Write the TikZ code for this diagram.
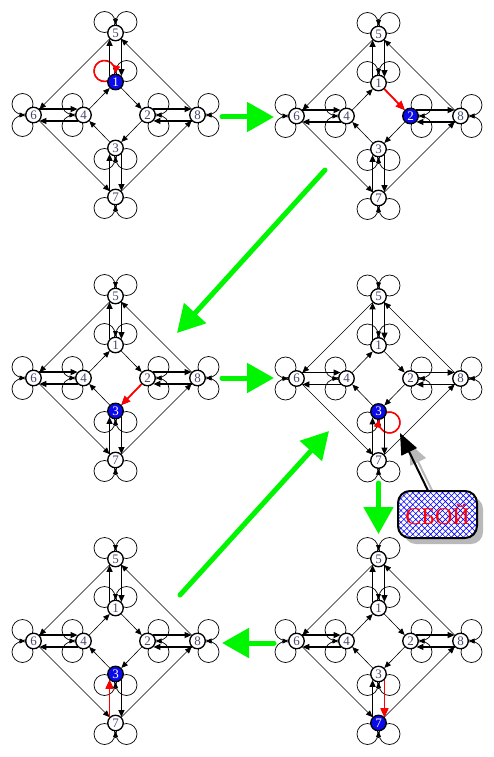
\documentclass[tikz,border=0pt]{standalone}
\usepackage{fontspec}
\setmainfont{Liberation Serif}
\usetikzlibrary{arrows.meta,patterns.meta,backgrounds,shadows}
\definecolor{labelc}{RGB}{70,75,110}
\definecolor{nodeblue}{RGB}{10,10,235}
\definecolor{lime}{RGB}{0,245,0}
\definecolor{shadowgray}{RGB}{185,185,185}
\tikzset{
  vtx/.style={circle, draw=black, line width=1.3pt, fill=white, minimum size=15.5pt,
    inner sep=0pt, font=\fontsize{13}{13}\selectfont, text=labelc},
  vact/.style={vtx, fill=nodeblue, text=white},
  lp/.style={line width=0.7pt},
  lpar/.style={line width=0.7pt, -{Triangle[length=5.5pt,width=5pt]}},
  de/.style={line width=0.6pt, -{Triangle[length=6.5pt,width=5.5pt]}},
  dd/.style={line width=1.3pt, -{Triangle[length=7pt,width=6pt]}},
  rd/.style={draw=red, line width=1.8pt, -{Triangle[length=9pt,width=8pt]}},
  rlp/.style={draw=red, line width=1.6pt, -{Triangle[length=8pt,width=7pt]}},
  garrow/.style={draw=lime, fill=lime, line width=5pt, line cap=round, -{Triangle[length=27pt,width=29pt]}},
  callout/.style={draw=black, line width=2pt, rounded corners=12pt, minimum width=79pt,
    minimum height=47pt, inner sep=0pt, text=red, font=\fontsize{24}{24}\selectfont,
    drop shadow={shadow xshift=6pt, shadow yshift=-6pt, fill=shadowgray, opacity=1},
    preaction={fill=white},
    pattern={Hatch[angle=45,distance=4.2pt,line width=0.6pt]}, pattern color=blue},
  ptr/.style={draw=black, line width=2pt, -{Triangle[length=21pt,width=17pt]}},
  ptrsh/.style={draw=shadowgray, line width=2pt, -{Triangle[length=21pt,width=17pt]}}
}
\newcommand\dgact{0}
\newcommand\dgnode[4]{\ifnum#2=\dgact\relax\node[vact] (#1#2) at (#3,#4) {#2};\else\node[vtx] (#1#2) at (#3,#4) {#2};\fi}
\newcommand\lpup[1]{\draw[lp] (#1) ++(-11,-11) circle[radius=10.5];\draw[lp] (#1) ++(11,-11) circle[radius=10.5];\draw[lpar] (#1) ++(0,-14.5) -- ++(0,6);}
\newcommand\lpdown[1]{\draw[lp] (#1) ++(-11,11) circle[radius=10.5];\draw[lp] (#1) ++(11,11) circle[radius=10.5];\draw[lpar] (#1) ++(0,14.5) -- ++(0,-6);}
\newcommand\lpleft[1]{\draw[lp] (#1) ++(-11,-11) circle[radius=10.5];\draw[lp] (#1) ++(-11,11) circle[radius=10.5];\draw[lpar] (#1) ++(-14.5,0) -- ++(6,0);}
\newcommand\lpright[1]{\draw[lp] (#1) ++(11,-11) circle[radius=10.5];\draw[lp] (#1) ++(11,11) circle[radius=10.5];\draw[lpar] (#1) ++(14.5,0) -- ++(-6,0);}
\newcommand\dgdraw[4]{%
  \def\dgact{#4}%
  \begin{scope}[shift={(#2,#3)}]
    \dgnode{#1}{5}{0}{-82}
    \dgnode{#1}{1}{0}{-33}
    \dgnode{#1}{6}{-82}{0}
    \dgnode{#1}{4}{-32}{0}
    \dgnode{#1}{2}{32}{0}
    \dgnode{#1}{8}{82}{0}
    \dgnode{#1}{3}{0}{33}
    \dgnode{#1}{7}{0}{82}
  \end{scope}
  \begin{pgfonlayer}{background}
    \lpup{#15}\lpup{#11}\lpleft{#16}\lpleft{#14}\lpright{#12}\lpright{#18}\lpdown{#13}\lpdown{#17}
  \end{pgfonlayer}
  \draw[de] (#15) -- (#16);
  \draw[de] (#18) -- (#15);
  \draw[de] (#14) -- (#11);
  \draw[de] (#11) -- (#12);
  \draw[de] (#12) -- (#13);
  \draw[de] (#13) -- (#14);
  \draw[de] (#16) -- (#17);
  \draw[de] (#17) -- (#18);
  \draw[dd] (#11.135) -- (#15.225);
  \draw[dd] (#15.315) -- (#11.45);
  \draw[dd] (#16.45) -- (#14.135);
  \draw[dd] (#14.225) -- (#16.315);
  \draw[dd] (#12.45) -- (#18.135);
  \draw[dd] (#18.225) -- (#12.315);
  \draw[dd] (#17.135) -- (#13.225);
  \draw[dd] (#13.315) -- (#17.45);
}
\begin{document}
\begin{tikzpicture}[x=1pt,y=-1pt]
  \useasboundingbox (0,0) rectangle (494,757);
  \begin{pgfonlayer}{background}
    \fill[white] (0,0) rectangle (494,757);
  \end{pgfonlayer}
  \dgdraw{a}{115.5}{115}{1}
  \dgdraw{b}{378.5}{116}{2}
  \dgdraw{c}{115.5}{378}{3}
  \dgdraw{d}{378.5}{378.5}{3}
  \dgdraw{e}{115.5}{641}{3}
  \dgdraw{f}{378.5}{641}{7}
  % red transitions
  \begin{pgfonlayer}{background}
    \draw[rlp] (a1) ++(-5.75,-1.91) arc[start angle=60, end angle=374, radius=10.5];
    \draw[rlp] (d3) ++(4.98,2.40) arc[start angle=-125, end angle=196, radius=10.5];
  \end{pgfonlayer}
  \draw[rd] (b1) -- (b2);
  \draw[rd] (c2) -- (c3);
  \draw[rd] (e7.135) -- (e3.225);
  \draw[rd] (f3.315) -- (f7.45);
  % green arrows
  \coordinate (g1s) at (222,117); \coordinate (g1e) at (274,117);
  \coordinate (g2s) at (325,170); \coordinate (g2e) at (177,333);
  \coordinate (g3s) at (222,378); \coordinate (g3e) at (274,378);
  \coordinate (g4s) at (378.5,483); \coordinate (g4e) at (378.5,534);
  \coordinate (g5s) at (274,643); \coordinate (g5e) at (222,643);
  \coordinate (g6s) at (180,595); \coordinate (g6e) at (329,431);
  \draw[garrow] (g1s) -- (g1e);
  \draw[garrow] (g2s) -- (g2e);
  \draw[garrow] (g3s) -- (g3e);
  \draw[garrow] (g4s) -- (g4e);
  \draw[garrow] (g5s) -- (g5e);
  \draw[garrow] (g6s) -- (g6e);
  % failure callout
  \node[callout] (fail) at (437.5,514.5) {СБОЙ};
  \coordinate (tipp) at (400,433);
  \coordinate (tips) at (409,443);
  \begin{pgfonlayer}{background}
    \draw[ptrsh] ([shift={(-0.5,10)}]fail.north) -- (tips);
  \end{pgfonlayer}
  \draw[ptr] ([xshift=-9.5pt]fail.north) -- (tipp);
\end{tikzpicture}
\end{document}
